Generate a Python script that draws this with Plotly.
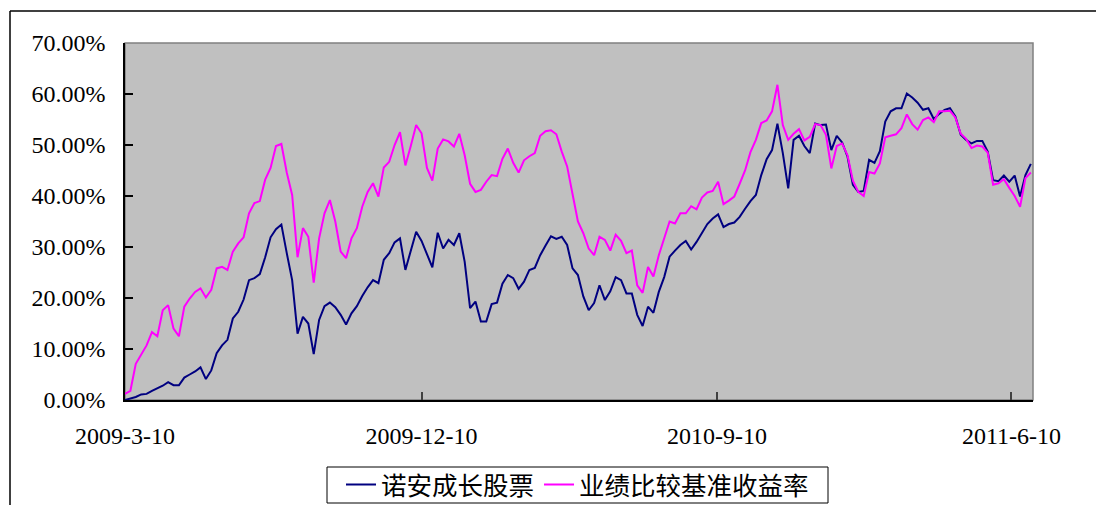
import pandas as pd
import plotly.graph_objects as go

# sampling dates (every 5 calendar days from fund inception)
dates = pd.date_range("2009-03-10", periods=169, freq="5D")

fund_name = "诺安成长股票"
bench_name = "业绩比较基准收益率"

# cumulative return, percent
fund = [
    0.0, 0.3, 0.6, 1.1, 1.2, 1.8, 2.3, 2.8, 3.5, 2.9,
    2.9, 4.4, 5.0, 5.6, 6.4, 4.1, 5.8, 9.2, 10.7, 11.8,
    16.0, 17.3, 19.7, 23.5, 23.9, 24.7, 28.0, 31.9, 33.5, 34.4,
    28.8, 23.5, 13.0, 16.3, 15.0, 9.0, 15.7, 18.4, 19.1, 18.2,
    16.7, 14.8, 17.0, 18.4, 20.4, 22.1, 23.5, 22.9, 27.5, 28.8,
    30.9, 31.7, 25.5, 29.1, 33.0, 31.2, 28.5, 26.0, 32.8, 29.7,
    31.4, 30.4, 32.7, 27.1, 18.0, 19.3, 15.4, 15.4, 18.8, 19.1,
    22.8, 24.5, 23.9, 21.8, 23.2, 25.5, 25.9, 28.4, 30.3, 32.1,
    31.6, 32.0, 30.4, 25.8, 24.5, 20.3, 17.6, 19.0, 22.5, 19.6,
    21.3, 24.1, 23.5, 20.9, 20.9, 16.7, 14.5, 18.3, 17.1, 21.2,
    24.1, 28.1, 29.3, 30.4, 31.2, 29.5, 31.0, 32.8, 34.5, 35.6,
    36.4, 33.9, 34.5, 34.8, 35.9, 37.5, 39.0, 40.2, 44.1, 47.2,
    49.0, 54.2, 48.4, 41.5, 51.0, 51.8, 49.8, 48.4, 54.2, 53.9,
    54.0, 49.0, 51.8, 50.5, 47.7, 42.2, 40.8, 41.0, 47.1, 46.5,
    48.8, 54.6, 56.6, 57.2, 57.2, 60.1, 59.3, 58.3, 56.9, 57.2,
    55.1, 56.1, 56.9, 57.2, 55.6, 52.0, 51.0, 50.3, 50.8, 50.8,
    48.7, 43.1, 42.9, 44.0, 42.8, 44.0, 39.9, 44.1, 46.3,
]

bench = [
    1.2, 1.8, 7.1, 9.0, 10.7, 13.3, 12.5, 17.6, 18.6, 14.0,
    12.5, 18.3, 19.9, 21.2, 21.9, 20.1, 21.6, 25.8, 26.1, 25.5,
    29.1, 30.7, 31.9, 36.6, 38.6, 39.0, 43.2, 45.5, 49.8, 50.2,
    44.6, 40.2, 28.0, 33.7, 32.0, 23.0, 31.7, 36.6, 39.2, 35.0,
    29.1, 27.8, 31.7, 33.7, 37.9, 40.8, 42.5, 39.9, 45.6, 46.7,
    50.0, 52.5, 46.0, 49.8, 53.9, 52.3, 45.5, 43.0, 49.3, 51.1,
    50.7, 49.7, 52.2, 48.0, 42.4, 40.8, 41.2, 42.8, 44.1, 43.9,
    47.3, 49.3, 46.5, 44.6, 47.0, 47.8, 48.4, 51.8, 52.7, 52.9,
    52.1, 48.7, 45.8, 40.4, 35.0, 32.7, 29.7, 28.4, 32.0, 31.4,
    29.3, 32.4, 31.2, 28.8, 29.3, 22.5, 21.0, 26.1, 24.2, 28.4,
    31.9, 35.0, 34.6, 36.6, 36.6, 38.0, 37.4, 39.7, 40.7, 41.0,
    42.8, 38.4, 39.1, 39.9, 42.4, 45.0, 48.6, 51.0, 54.3, 54.8,
    56.6, 61.8, 53.9, 51.0, 52.2, 53.1, 50.9, 51.6, 54.1, 53.9,
    52.0, 45.4, 49.8, 50.3, 48.0, 43.0, 40.8, 40.0, 44.7, 44.4,
    46.4, 51.5, 51.8, 52.1, 53.3, 56.0, 54.1, 53.0, 54.9, 55.4,
    54.5, 56.6, 56.6, 56.7, 55.4, 52.2, 51.2, 49.4, 49.9, 49.7,
    48.5, 42.2, 42.5, 43.3, 41.6, 40.0, 37.9, 43.5, 44.6,
]

x_tick_dates = ["2009-03-10", "2009-12-10", "2010-09-10", "2011-06-10"]
x_tick_text = ["2009-3-10", "2009-12-10", "2010-9-10", "2011-6-10"]
x_range = ["2009-03-10", "2011-06-30"]

FONT = "'Liberation Serif', 'Noto Sans CJK SC', serif"

fig = go.Figure()
fig.add_trace(go.Scatter(
    x=dates, y=[v / 100 for v in fund], mode="lines", name=fund_name,
    line=dict(color="#000080", width=2),
))
fig.add_trace(go.Scatter(
    x=dates, y=[v / 100 for v in bench], mode="lines", name=bench_name,
    line=dict(color="#FF00FF", width=2),
))

# the page body adds an 8px margin, so the figure is laid out 8px smaller
OFF = 8
W, H = 1104 - OFF, 505 - OFF
L, R, T, B = 125 - OFF, 1033 - OFF, 43 - OFF, 400 - OFF
pw, ph = R - L, B - T


def px_x(p):  # p given in page pixels
    return (p - OFF - L) / pw


def px_y(p):
    return (B - (p - OFF)) / ph


shapes = [
    # plot-area border (top/right grey)
    dict(type="rect", xref="paper", yref="paper", x0=0, x1=1, y0=0, y1=1,
         line=dict(color="#808080", width=1.5), layer="below"),
    # outer chart frame
    dict(type="line", xref="paper", yref="paper",
         x0=px_x(10), x1=px_x(10), y0=px_y(11), y1=px_y(506),
         line=dict(color="#000000", width=1.5)),
    dict(type="line", xref="paper", yref="paper",
         x0=px_x(10), x1=px_x(1105), y0=px_y(11), y1=px_y(11),
         line=dict(color="#000000", width=1.5)),
    # legend box
    dict(type="rect", xref="paper", yref="paper",
         x0=px_x(327), x1=px_x(828), y0=px_y(503), y1=px_y(467),
         line=dict(color="#000000", width=1), fillcolor="white", layer="below"),
]

fig.update_layout(
    width=W, height=H, autosize=False,
    margin=dict(l=L, r=W - R, t=T, b=H - B, pad=0),
    paper_bgcolor="white",
    plot_bgcolor="#C0C0C0",
    font=dict(family=FONT, size=22, color="#000000"),
    shapes=shapes,
    showlegend=True,
    legend=dict(
        orientation="h", xref="container", yref="container",
        x=(577.5 - OFF) / W, xanchor="center", y=1 - (485 - OFF) / H, yanchor="middle",
        bgcolor="rgba(0,0,0,0)", borderwidth=0,
        font=dict(family=FONT, size=25.5, color="#000000"),
        itemwidth=30, tracegroupgap=0,
    ),
)

fig.update_xaxes(
    type="date", range=x_range, automargin=False,
    tickvals=x_tick_dates, ticktext=x_tick_text,
    ticks="inside", ticklen=8, tickcolor="#404040", tickwidth=1.5,
    showgrid=False, zeroline=False,
    showline=True, linecolor="#000000", linewidth=1.5,
    tickfont=dict(family=FONT, size=24),
    ticklabelstandoff=13,
)
fig.update_yaxes(
    range=[0, 0.7], dtick=0.1, tick0=0, tickformat=".2%", automargin=False,
    ticks="inside", ticklen=8, tickcolor="#000000", tickwidth=1.5,
    showgrid=False, zeroline=False,
    showline=True, linecolor="#000000", linewidth=1.5,
    tickfont=dict(family=FONT, size=24),
    ticklabelstandoff=13,
)

fig.write_html("out.html")
